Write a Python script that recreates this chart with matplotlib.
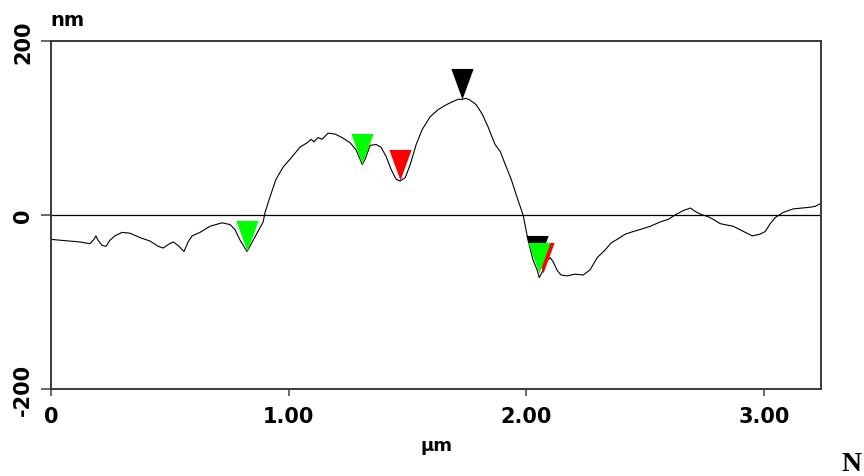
import numpy as np
import matplotlib
matplotlib.use("Agg")
import matplotlib.pyplot as plt
from matplotlib.markers import MarkerStyle

# section profile (distance in um, height in nm)
dist_um = [0.000, 0.038, 0.080, 0.122, 0.164, 0.181, 0.189, 0.198, 0.215, 0.232,
           0.248, 0.269, 0.299, 0.333, 0.375, 0.417, 0.451, 0.472, 0.493, 0.514,
           0.535, 0.560, 0.577, 0.594, 0.627, 0.669, 0.720, 0.754, 0.775, 0.796,
           0.825, 0.859, 0.893, 0.901, 0.922, 0.947, 0.977, 1.015, 1.048, 1.078,
           1.095, 1.107, 1.124, 1.141, 1.166, 1.196, 1.225, 1.259, 1.284, 1.301,
           1.310, 1.322, 1.343, 1.368, 1.389, 1.411, 1.432, 1.453, 1.469, 1.491,
           1.512, 1.537, 1.562, 1.596, 1.629, 1.659, 1.688, 1.714, 1.731, 1.747,
           1.764, 1.789, 1.815, 1.840, 1.869, 1.891, 1.912, 1.937, 1.962, 1.987,
           2.008, 2.029, 2.046, 2.055, 2.072, 2.088, 2.101, 2.114, 2.131, 2.147,
           2.173, 2.206, 2.240, 2.269, 2.299, 2.333, 2.358, 2.383, 2.417, 2.451,
           2.488, 2.522, 2.564, 2.598, 2.627, 2.661, 2.691, 2.712, 2.733, 2.766,
           2.787, 2.817, 2.872, 2.922, 2.952, 2.985, 3.006, 3.027, 3.048, 3.082,
           3.124, 3.162, 3.196, 3.217, 3.238]
height_nm = [-28, -29, -30, -31, -33, -28, -24, -29, -35, -36,
             -29, -24, -20, -21, -26, -30, -36, -38, -34, -31,
             -35, -42, -31, -24, -20, -13, -9, -11, -17, -29,
             -42, -25, -8, 3, 21, 41, 55, 67, 78, 83,
             87, 84, 89, 87, 94, 93, 89, 83, 75, 64,
             58, 64, 80, 81, 78, 67, 52, 41, 39, 43,
             58, 81, 98, 113, 121, 126, 130, 133, 133, 134,
             132, 127, 116, 101, 81, 73, 58, 41, 20, 0,
             -29, -52, -63, -72, -63, -52, -49, -54, -64, -69,
             -70, -68, -69, -63, -49, -40, -32, -28, -22, -19,
             -16, -13, -8, -5, 0, 5, 8, 4, 1, -2,
             -5, -10, -13, -20, -24, -22, -19, -10, -3, 3,
             7, 8, 9, 10, 13]

# cursor markers (tip position)
black_x = [2.044, 1.731]
black_y = [-59, 133]
red_x = [1.469, 2.071]
red_y = [40, -67]
green_x = [0.825, 1.310, 2.055]
green_y = [-41, 59, -67]

x_ticks = [0, 1, 2, 3]
x_labels = ["0", "1.00", "2.00", "3.00"]
y_ticks = [-200, 0, 200]
y_labels = ["-200", "0", "200"]

fig = plt.figure(figsize=(8.64, 4.77), dpi=100)
ax = fig.add_axes([0.059, 0.1824, 0.891, 0.7296])

ax.plot(dist_um, height_nm, color="black", lw=0.8, zorder=2)
ax.axhline(0, color="black", lw=0.9, zorder=1)

# down-pointing triangle with its tip on the point
tri = MarkerStyle([(-0.365, 1.0), (0.365, 1.0), (0.0, 0.0)])
msize = 44
ax.plot(black_x, black_y, ls="none", marker=tri, ms=msize, color="black", mew=0, zorder=3)
ax.plot(red_x, red_y, ls="none", marker=tri, ms=msize, color="#ff0000", mew=0, zorder=4)
ax.plot(green_x, green_y, ls="none", marker=tri, ms=msize, color="#00ff00", mew=0, zorder=5)

ax.set_xlim(0, 3.24)
ax.set_ylim(-200, 200)
ax.set_xticks(x_ticks)
ax.set_xticklabels(x_labels, fontsize=15, fontweight="bold", family="DejaVu Sans")
ax.set_yticks(y_ticks)
ax.set_yticklabels(y_labels, fontsize=15, fontweight="bold", family="DejaVu Sans",
                   rotation=90, va="center")
ax.tick_params(axis="x", direction="out", length=5, width=1.1, color="#404040", pad=7)
ax.tick_params(axis="y", direction="out", length=7, width=1.1, color="#404040", pad=6)
for s in ax.spines.values():
    s.set_color("#3a3a3a")
    s.set_linewidth(1.4)

fig.text(50 / 864, 1 - 21 / 477, "nm", fontsize=14, fontweight="bold", va="center", ha="left")
fig.text(436 / 864, 1 - 446 / 477, "µm", fontsize=13, fontweight="bold", va="center", ha="center")
fig.text(842 / 864, 0.0, "N", fontsize=20, fontweight="bold", family="Liberation Serif",
         va="bottom", ha="left")

fig.savefig("out.png", dpi=100)
